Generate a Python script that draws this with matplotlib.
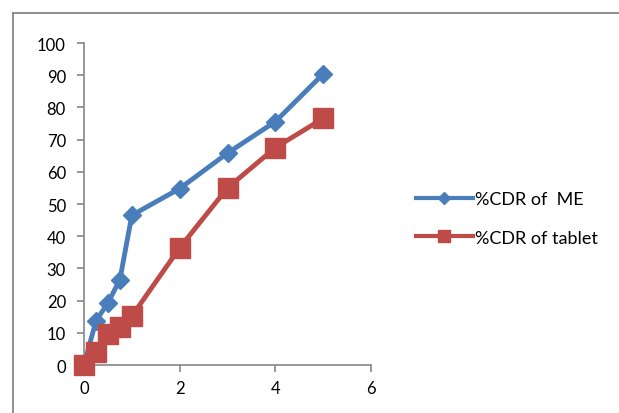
import matplotlib.pyplot as plt
from matplotlib.lines import Line2D

time_h = [0, 0.25, 0.5, 0.75, 1, 2, 3, 4, 5]
cdr_me = [0, 13.7, 19.3, 26.5, 46.5, 54.8, 65.8, 75.6, 90.4]
cdr_tablet = [0, 4.0, 9.5, 11.7, 15.2, 36.4, 55.0, 67.5, 76.6]

blue = '#4a7ebb'
red = '#be4b48'
axis_grey = '#868686'

plt.rcParams['font.family'] = ['Lato', 'DejaVu Sans']

fig = plt.figure(figsize=(6.19, 4.14), dpi=100)
ax = fig.add_axes([0.1357, 0.1159, 0.5994 - 0.1357, 0.8937 - 0.1159])

ax.plot(time_h, cdr_me, '-D', color=blue, lw=3.5, ms=9, mfc=blue, mec=blue,
        label='%CDR of  ME', clip_on=False, zorder=3)
ax.plot(time_h, cdr_tablet, '-s', color=red, lw=3.5, ms=14, mfc=red, mec=red,
        label='%CDR of tablet', clip_on=False, zorder=4)

ax.set_xlim(0, 6)
ax.set_ylim(0, 100)
ax.set_xticks([0, 2, 4, 6])
ax.set_yticks(range(0, 101, 10))

for side in ['top', 'right']:
    ax.spines[side].set_visible(False)
for side in ['left', 'bottom']:
    ax.spines[side].set_color(axis_grey)
    ax.spines[side].set_linewidth(1.2)
ax.tick_params(colors=axis_grey, labelcolor='black', labelsize=12, length=5,
               width=1.2, direction='out')
ax.tick_params(axis='x', pad=6)
ax.tick_params(axis='y', pad=8)

handles = [
    Line2D([], [], color=blue, lw=3, marker='D', ms=6, mec=blue),
    Line2D([], [], color=red, lw=3, marker='s', ms=8, mec=red),
]
fig.legend(handles, ['%CDR of  ME', '%CDR of tablet'], loc='center left',
           bbox_to_anchor=(0.645, 0.47), frameon=False, fontsize=13,
           handlelength=3.2, labelspacing=1.25, handletextpad=0.1)

# outer chart frame (only top and left edges are visible in the crop)
fig.add_artist(Line2D([0.021, 1.0], [0.965, 0.965], transform=fig.transFigure,
                      color=axis_grey, lw=1.3))
fig.add_artist(Line2D([0.021, 0.021], [0.0, 0.965], transform=fig.transFigure,
                      color=axis_grey, lw=1.3))

fig.savefig('out.png', dpi=100)
